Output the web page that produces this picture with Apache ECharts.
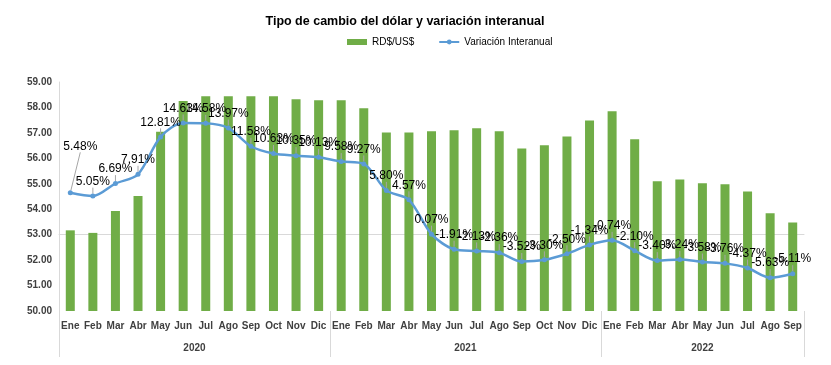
<!DOCTYPE html>
<html><head><meta charset="utf-8">
<script src="https://cdn.jsdelivr.net/npm/echarts@6/dist/echarts.min.js"></script>
<style>html,body{margin:0;padding:0;background:#fff}#c{width:831px;height:365px}</style>
</head><body><div id="c"></div>
<script>
const months = ['Ene','Feb','Mar','Abr','May','Jun','Jul','Ago','Sep','Oct','Nov','Dic',
                'Ene','Feb','Mar','Abr','May','Jun','Jul','Ago','Sep','Oct','Nov','Dic',
                'Ene','Feb','Mar','Abr','May','Jun','Jul','Ago','Sep'];
const years = ['2020','2021','2022'];
const monthsPerYear = [12,12,9];
const tasa = [53.17,53.07,53.93,54.52,57.04,58.25,58.44,58.44,58.44,58.44,58.32,58.28,
              58.28,57.97,57.02,57.02,57.06,57.10,57.18,57.06,56.39,56.51,56.86,57.49,
              57.85,56.75,55.10,55.17,55.02,54.98,54.70,53.84,53.48];
const variacion = [5.48,5.05,6.69,7.91,12.81,14.63,14.58,13.97,11.58,10.63,10.35,10.13,
                   9.58,9.27,5.80,4.57,0.07,-1.91,-2.13,-2.36,-3.52,-3.30,-2.50,-1.34,
                   -0.74,-2.10,-3.40,-3.24,-3.58,-3.76,-4.37,-5.63,-5.11];
const yTicks = [50,51,52,53,54,55,56,57,58,59];

const nSlots = months.length * 2 + 1;
const slots = [];
for (let i = 0; i < nSlots; i++) slots.push(String(i));
const boundaries = [0];
const centers = {};
let acc = 0;
years.forEach((y, k) => {
  centers[(acc * 2) + monthsPerYear[k]] = y;
  acc += monthsPerYear[k];
  boundaries.push(acc * 2);
});

const FA = "'Liberation Sans',Arial,sans-serif";
const chart = echarts.init(document.getElementById('c'), null, {renderer:'canvas'});
chart.setOption({
  animation: false,
  backgroundColor: '#fff',
  title: {
    text: 'Tipo de cambio del dólar y variación interanual',
    left: 400, top: 10, textAlign: 'center',
    textStyle: {fontFamily: FA, fontSize: 12.5, fontWeight: 'bold', color: '#000'}
  },
  legend: {
    left: 342, top: 32, itemGap: 24, itemWidth: 20, itemHeight: 6,
    textStyle: {fontFamily: FA, fontSize: 10, color: '#000'},
    data: [{name: 'RD$/US$', icon: 'rect'}, {name: 'Variación Interanual'}]
  },
  grid: {left: 59, right: 27, top: 82, bottom: 54, containLabel: false, show: false},
  xAxis: [{
    type: 'category', data: months, boundaryGap: true,
    axisLine: {lineStyle: {color: '#d9d9d9', width: 1}},
    axisTick: {show: false}, splitLine: {show: false},
    axisLabel: {interval: 0, margin: 10, color: '#404040', fontFamily: FA, fontSize: 10, fontWeight: 'bold'}
  }, {
    type: 'category', data: slots, boundaryGap: false, position: 'bottom',
    axisLine: {show: false}, splitLine: {show: false},
    axisTick: {show: true, length: 46, interval: (i) => boundaries.includes(i),
               lineStyle: {color: '#d9d9d9', width: 1}},
    axisLabel: {interval: (i) => centers[i] !== undefined, formatter: (v, i) => centers[i] || '',
                margin: 32, color: '#404040', fontFamily: FA, fontSize: 10, fontWeight: 'bold'}
  }],
  yAxis: [{
    type: 'value', min: yTicks[0], max: yTicks[yTicks.length - 1], interval: 1,
    axisLine: {show: true, lineStyle: {color: '#d9d9d9'}},
    axisTick: {show: false},
    splitLine: {show: false},
    axisLabel: {formatter: (v) => v.toFixed(2), margin: 7, color: '#404040', fontFamily: FA, fontSize: 10, fontWeight: 'bold'}
  }, {
    type: 'value', min: -10, max: 20, interval: 5,
    axisLine: {show: false}, axisTick: {show: false}, axisLabel: {show: false},
    splitLine: {show: false}
  }],
  series: [{
    name: 'RD$/US$', type: 'bar', data: tasa, barWidth: 9,
    itemStyle: {color: '#70AD47'}, xAxisIndex: 0, yAxisIndex: 0
  }, {
    name: 'Variación Interanual', type: 'line', data: variacion, xAxisIndex: 0, yAxisIndex: 1,
    smooth: 0.3, symbol: 'circle', symbolSize: 5,
    lineStyle: {color: '#5B9BD5', width: 2.5},
    itemStyle: {color: '#5B9BD5'},
    label: {show: true, position: 'top', distance: 6, formatter: (p) => p.value.toFixed(2) + '%',
            color: '#000', fontFamily: FA, fontSize: 12},
    labelLine: {show: true, lineStyle: {color: '#a6a6a6', width: 1}},
    labelLayout: (p) => p.dataIndex === 0 ? {dx: 10, dy: -32} : {}
  }]
});
</script></body></html>
